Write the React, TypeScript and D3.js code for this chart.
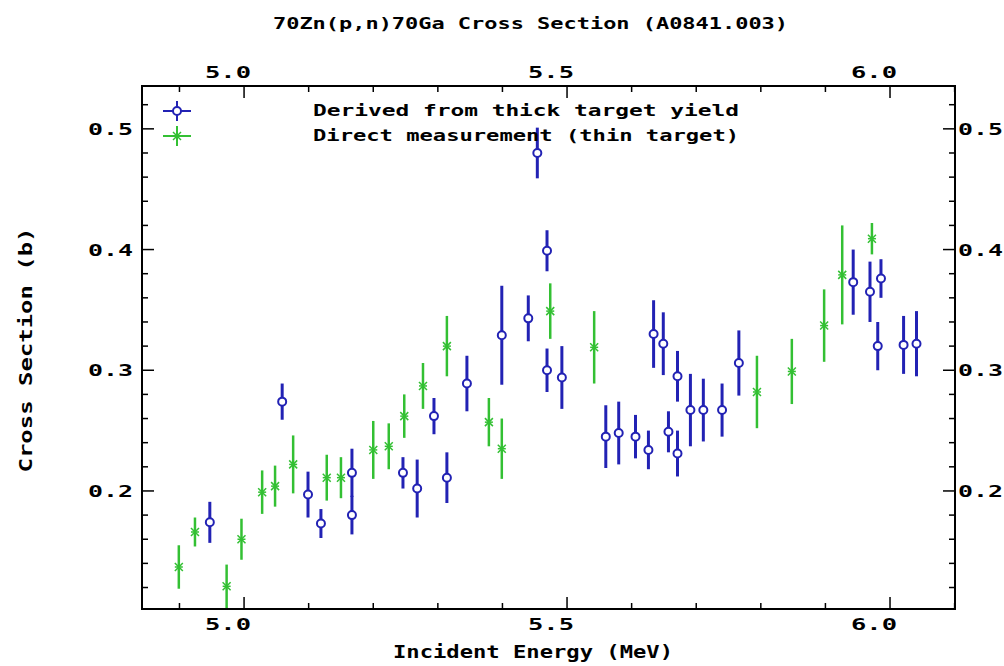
import React from 'react';
import * as d3 from 'd3';

// thin-target (direct) measurement
const directEnergy = [4.899, 4.924, 4.973, 4.996, 5.028, 5.048, 5.076, 5.128, 5.150, 5.200, 5.224, 5.248,
  5.277, 5.314, 5.379, 5.399, 5.474, 5.542, 5.794, 5.848, 5.898, 5.926, 5.972];
const directXs = [0.137, 0.166, 0.121, 0.160, 0.199, 0.204, 0.222, 0.211, 0.211, 0.234, 0.237, 0.262,
  0.287, 0.320, 0.257, 0.235, 0.349, 0.319, 0.282, 0.299, 0.337, 0.379, 0.409];
const directErr = [0.018, 0.012, 0.018, 0.017, 0.018, 0.017, 0.024, 0.019, 0.017, 0.024, 0.019, 0.018,
  0.019, 0.025, 0.020, 0.025, 0.023, 0.030, 0.030, 0.027, 0.030, 0.041, 0.013];

// derived from thick target yield
const derivedEnergy = [4.947, 5.059, 5.099, 5.119, 5.167, 5.167, 5.246, 5.268, 5.294, 5.314, 5.345, 5.399,
  5.440, 5.454, 5.469, 5.469, 5.492, 5.560, 5.580, 5.606, 5.626, 5.634, 5.649, 5.657, 5.671, 5.671,
  5.691, 5.711, 5.740, 5.766, 5.943, 5.969, 5.981, 5.986, 6.021, 6.041];
const derivedXs = [0.174, 0.274, 0.197, 0.173, 0.215, 0.180, 0.215, 0.202, 0.262, 0.211, 0.289, 0.329,
  0.343, 0.480, 0.399, 0.300, 0.294, 0.245, 0.248, 0.245, 0.234, 0.330, 0.322, 0.249, 0.295, 0.231,
  0.267, 0.267, 0.267, 0.306, 0.373, 0.365, 0.320, 0.376, 0.321, 0.322];
const derivedErr = [0.017, 0.015, 0.019, 0.012, 0.020, 0.016, 0.013, 0.024, 0.015, 0.021, 0.023, 0.041,
  0.019, 0.021, 0.017, 0.018, 0.026, 0.026, 0.026, 0.018, 0.016, 0.028, 0.026, 0.017, 0.021, 0.019,
  0.030, 0.026, 0.022, 0.027, 0.027, 0.025, 0.020, 0.016, 0.024, 0.027];

const xMajor = [5.0, 5.5, 6.0];
const xMinor = [4.9, 5.1, 5.2, 5.3, 5.4, 5.6, 5.7, 5.8, 5.9, 6.1];
const yMajor = [0.2, 0.3, 0.4, 0.5];
const yMinor = [0.12, 0.14, 0.16, 0.18, 0.22, 0.24, 0.26, 0.28, 0.32, 0.34, 0.36, 0.38, 0.42, 0.44, 0.46, 0.48, 0.52];

const legendLabels = ['Derived from thick target yield', 'Direct measurement (thin target)'];

const BLUE = '#2222b4';
const GREEN = '#33c033';
const FONT = '"DejaVu Sans Mono", monospace';

const App = () => {
  const left = 142, right = 955, top = 86, bottom = 609;
  const x = d3.scaleLinear().domain([4.842, 6.1006]).range([left, right]);
  const y = d3.scaleLinear().domain([0.1022, 0.5355]).range([bottom, top]);
  const fmt = d3.format('.1f');

  const direct = directEnergy.map((e, i) => ({ e, v: directXs[i], err: directErr[i] }));
  const derived = derivedEnergy.map((e, i) => ({ e, v: derivedXs[i], err: derivedErr[i] }));

  const star = (cx, cy, key) => (
    <g key={key} stroke={GREEN} strokeWidth={1.5}>
      <line x1={cx - 4} y1={cy - 4} x2={cx + 4} y2={cy + 4} />
      <line x1={cx - 4} y1={cy + 4} x2={cx + 4} y2={cy - 4} />
      <line x1={cx - 4} y1={cy} x2={cx + 4} y2={cy} />
    </g>
  );

  const txt = { fontFamily: FONT, fontWeight: 'bold', fill: '#000', lengthAdjust: 'spacingAndGlyphs' };

  return (
    <svg width={1004} height={666} style={{ position: 'absolute', left: 0, top: 0, background: '#fff' }}>
      <defs>
        <clipPath id="plot">
          <rect x={left} y={top} width={right - left} height={bottom - top} />
        </clipPath>
      </defs>

      <text x={273} y={29} textLength={515} fontSize={15} {...txt}>
        70Zn(p,n)70Ga Cross Section (A0841.003)
      </text>

      {/* frame and ticks */}
      <rect x={left} y={top} width={right - left} height={bottom - top} fill="none" stroke="#000" strokeWidth={2} />
      <g stroke="#000" strokeWidth={1.5}>
        {xMajor.map((d) => (
          <g key={'xM' + d}>
            <line x1={x(d)} x2={x(d)} y1={bottom} y2={bottom - 12} />
            <line x1={x(d)} x2={x(d)} y1={top} y2={top + 12} />
          </g>
        ))}
        {xMinor.map((d) => (
          <g key={'xm' + d}>
            <line x1={x(d)} x2={x(d)} y1={bottom} y2={bottom - 6} />
            <line x1={x(d)} x2={x(d)} y1={top} y2={top + 6} />
          </g>
        ))}
        {yMajor.map((d) => (
          <g key={'yM' + d}>
            <line x1={left} x2={left + 12} y1={y(d)} y2={y(d)} />
            <line x1={right} x2={right - 12} y1={y(d)} y2={y(d)} />
          </g>
        ))}
        {yMinor.map((d) => (
          <g key={'ym' + d}>
            <line x1={left} x2={left + 6} y1={y(d)} y2={y(d)} />
            <line x1={right} x2={right - 6} y1={y(d)} y2={y(d)} />
          </g>
        ))}
      </g>

      {/* tick labels */}
      {xMajor.map((d) => (
        <g key={'xl' + d}>
          <text x={x(d) - 39} y={78} textLength={46} fontSize={16} {...txt}>{fmt(d)}</text>
          <text x={x(d) - 39} y={630} textLength={46} fontSize={16} {...txt}>{fmt(d)}</text>
        </g>
      ))}
      {yMajor.map((d) => (
        <g key={'yl' + d}>
          <text x={88} y={y(d) + 6} textLength={45} fontSize={16} {...txt}>{fmt(d)}</text>
          <text x={958} y={y(d) + 6} textLength={45} fontSize={16} {...txt}>{fmt(d)}</text>
        </g>
      ))}

      <text x={393} y={658} textLength={280} fontSize={18} {...txt}>Incident Energy (MeV)</text>
      <text transform="translate(32,350) rotate(-90)" textAnchor="middle" textLength={245}
        fontSize={18} {...txt}>Cross Section (b)</text>

      {/* data */}
      <g clipPath="url(#plot)">
        {direct.map((d, i) => (
          <g key={'d' + i}>
            <line x1={x(d.e)} x2={x(d.e)} y1={y(d.v - d.err)} y2={y(d.v + d.err)} stroke={GREEN} strokeWidth={2.5} />
            {star(x(d.e), y(d.v), 's' + i)}
          </g>
        ))}
        {derived.map((d, i) => (
          <g key={'t' + i}>
            <line x1={x(d.e)} x2={x(d.e)} y1={y(d.v - d.err)} y2={y(d.v + d.err)} stroke={BLUE} strokeWidth={3} />
            <circle cx={x(d.e)} cy={y(d.v)} r={4} fill="#fff" stroke={BLUE} strokeWidth={2} />
          </g>
        ))}
      </g>

      {/* legend */}
      <g>
        <line x1={163} x2={191} y1={111} y2={111} stroke={BLUE} strokeWidth={2} />
        <line x1={177} x2={177} y1={101} y2={121} stroke={BLUE} strokeWidth={2} />
        <circle cx={177} cy={111} r={4} fill="#fff" stroke={BLUE} strokeWidth={2} />
        <line x1={163} x2={191} y1={136} y2={136} stroke={GREEN} strokeWidth={2} />
        <line x1={177} x2={177} y1={126} y2={146} stroke={GREEN} strokeWidth={2} />
        {star(177, 136, 'leg')}
        {legendLabels.map((l, i) => (
          <text key={l} x={313} y={116 + i * 25} textLength={426} fontSize={16} {...txt}>{l}</text>
        ))}
      </g>
    </svg>
  );
};

export default App;
